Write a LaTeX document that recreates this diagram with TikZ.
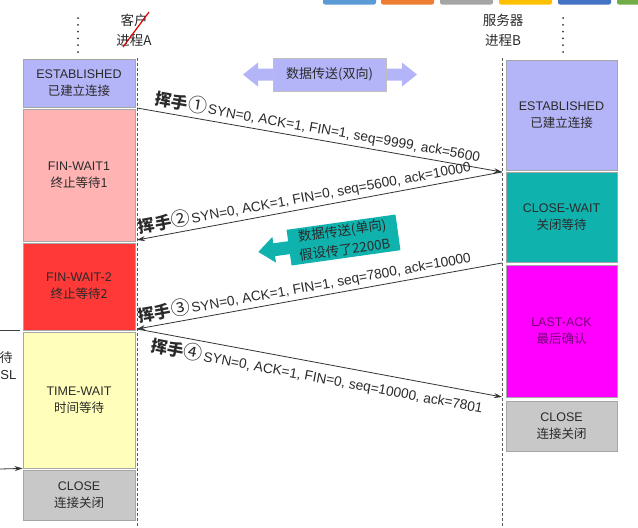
\documentclass[tikz,border=0pt]{standalone}
\usepackage{fontspec}
\setmainfont{Liberation Sans}
\newfontfamily\cjk{Noto Sans CJK SC}
\usetikzlibrary{arrows.meta}
\definecolor{lav}{HTML}{B4B4F8}
\definecolor{pinkc}{HTML}{FFB3B3}
\definecolor{redc}{HTML}{FF3838}
\definecolor{yelc}{HTML}{FFFFBB}
\definecolor{grayc}{HTML}{C8C8C8}
\definecolor{tealc}{HTML}{10B2AE}
\definecolor{magc}{HTML}{FF00FF}
\definecolor{txt}{HTML}{2A2A2A}
\definecolor{ob1}{HTML}{5B9BD5}
\definecolor{ob2}{HTML}{ED7D31}
\definecolor{ob3}{HTML}{A5A5A5}
\definecolor{ob4}{HTML}{FFC000}
\definecolor{ob5}{HTML}{4472C4}
\definecolor{ob6}{HTML}{70AD47}
\begin{document}
\begin{tikzpicture}[x=1pt,y=-1pt,
  statebox/.style={draw=black!35, line width=0.8pt, align=center, text=txt,
    font=\fontsize{12.5}{17}\selectfont, inner sep=0pt},
  timeline/.style={draw=black!65, line width=0.9pt, dash pattern=on 3pt off 2pt},
  dotcol/.style={draw=black!80, line width=2pt, line cap=round, dash pattern=on 0pt off 6.8pt},
  msg/.style={draw=black!80, line width=0.8pt, -{Stealth[length=8pt,width=5pt]}},
  msglabel/.style={sloped, font=\fontsize{13.7}{16}\selectfont, text=txt, inner sep=1pt},
  titletext/.style={align=center, text=txt, font=\cjk\fontsize{13.5}{20}\selectfont},
  bar/.style={rounded corners=2pt}
]
\clip (0,0) rectangle (638,528);
\fill[white] (0,0) rectangle (638,528);

% toolbar fragment at top
\fill[ob1,bar] (323,-6) rectangle (376,4.5);
\fill[ob2,bar] (381,-6) rectangle (434,4.5);
\fill[ob3,bar] (440,-6) rectangle (493,4.5);
\fill[ob4,bar] (499,-6) rectangle (552,4.5);
\fill[ob5,bar] (558,-6) rectangle (611,4.5);
\fill[ob6,bar] (617,-6) rectangle (670,4.5);

% titles
\node[titletext] (tA) at (134,30) {客户\\进程A};
\node[titletext] (tB) at (503,30) {服务器\\进程B};
\draw[red!85!black, line width=1.2pt] (123,47) -- (149,12);

% dots above columns
\coordinate (dA1) at (78,18); \coordinate (dA2) at (78,53);
\coordinate (dB1) at (563,18); \coordinate (dB2) at (563,53);
\draw[dotcol] (dA1) -- (dA2);
\draw[dotcol] (dB1) -- (dB2);

% left state boxes
\node[statebox, fill=lav,   minimum width=112pt, minimum height=48pt]  (estA) at (79,83)    {ESTABLISHED\\{\cjk 已建立连接}};
\node[statebox, fill=pinkc, minimum width=112pt, minimum height=132pt] (fw1)  at (79,175)   {FIN-WAIT1\\{\cjk 终止等待1}};
\node[statebox, fill=redc,  minimum width=112pt, minimum height=87pt]  (fw2)  at (79,286.5) {FIN-WAIT-2\\{\cjk 终止等待2}};
\node[statebox, fill=yelc,  minimum width=112pt, minimum height=136pt] (tw)   at (79,400)   {TIME-WAIT\\{\cjk 时间等待}};
\node[statebox, fill=grayc, minimum width=112pt, minimum height=50pt]  (clA)  at (79,495)   {CLOSE\\{\cjk 连接关闭}};

% right state boxes
\node[statebox, fill=lav,   minimum width=111pt, minimum height=110pt] (estB) at (561.5,115)   {ESTABLISHED\\{\cjk 已建立连接}};
\node[statebox, fill=tealc, minimum width=111pt, minimum height=90pt]  (cw)   at (561.5,217.5) {CLOSE-WAIT\\{\cjk 关闭等待}};
\node[statebox, fill=magc,  minimum width=111pt, minimum height=132pt, text=black!55!magc] (la) at (561.5,331.5) {LAST-ACK\\{\cjk 最后确认}};
\node[statebox, fill=grayc, minimum width=111pt, minimum height=50pt]  (clB)  at (561.5,426)   {CLOSE\\{\cjk 连接关闭}};

% timelines
\coordinate (LT) at (137,58);  \coordinate (LB) at (137,530);
\coordinate (RT) at (502,58);  \coordinate (RB) at (502,530);
\draw[timeline] (LT) -- (LB);
\draw[timeline] (RT) -- (RB);

% bidirectional data transfer
\fill[lav] (243,74.5) -- (258,62.5) -- (258,68.5) -- (402,68.5) -- (402,62.5) -- (417,74.5)
  -- (402,86.5) -- (402,80.5) -- (258,80.5) -- (258,86.5) -- cycle;
\node[draw=black!25, line width=0.6pt, fill=lav, minimum width=113pt, minimum height=33pt,
  inner sep=0pt, text=txt, font=\cjk\fontsize{13}{16}\selectfont] (dual) at (329.5,74.5) {数据传送(双向)};

% one-way data transfer (tilted)
\begin{scope}[shift={(343.5,240)}, rotate=8]
  \fill[tealc] (-54,-6.5) -- (-70,-6.5) -- (-70,-13) -- (-86,0) -- (-70,13) -- (-70,6.5) -- (-54,6.5) -- cycle;
  \node[fill=tealc, minimum width=110pt, minimum height=36pt, inner sep=0pt, align=center,
    transform shape, text=txt, font=\cjk\fontsize{13.3}{19}\selectfont] (single) at (0,0) {数据传送(单向)\\假设传了2200B};
\end{scope}

% message endpoints
\coordinate (L1) at (137,108);
\coordinate (L2) at (137,240);
\coordinate (L3) at (137,329);
\coordinate (R1) at (502,172);
\coordinate (R3) at (502,263);
\coordinate (R4) at (502,397);

\newcommand{\hs}[1]{{\cjk\bfseries\fontsize{16.5}{18}\selectfont 挥手}{\cjk\fontsize{19}{18}\selectfont #1}\hspace{1.5pt}}
\draw[msg] (L1) -- node[msglabel, above=2pt, pos=0.49] {\hs{①}SYN=0, ACK=1, FIN=1, seq=9999, ack=5600} (R1);
\draw[msg] (R1) -- node[msglabel, above=2pt, pos=0.535] {\hs{②}SYN=0, ACK=1, FIN=0, seq=5600, ack=10000} (L2);
\draw[msg] (R3) -- node[msglabel, above=2pt, pos=0.535] {\hs{③}SYN=0, ACK=1, FIN=1, seq=7800, ack=10000} (L3);
\draw[msg] (L3) -- node[msglabel, below=2pt, pos=0.5] {\hs{④}SYN=0, ACK=1, FIN=0, seq=10000, ack=7801} (R4);

% cut-off fragments at the left edge
\coordinate (fl1) at (0,330); \coordinate (fl2) at (20,330);
\draw[black!75, line width=0.8pt] (fl1) -- (fl2);
\node[text=txt, font=\cjk\fontsize{13}{16}\selectfont, inner sep=0pt] (fdai) at (6,358) {待};
\node[text=txt, font=\fontsize{13}{16}\selectfont, inner sep=0pt, anchor=east] (fsl) at (16.5,375) {SL};
\coordinate (fa) at (0,469);
\draw[msg] (fa) -- (tw.south west);
\end{tikzpicture}
\end{document}
